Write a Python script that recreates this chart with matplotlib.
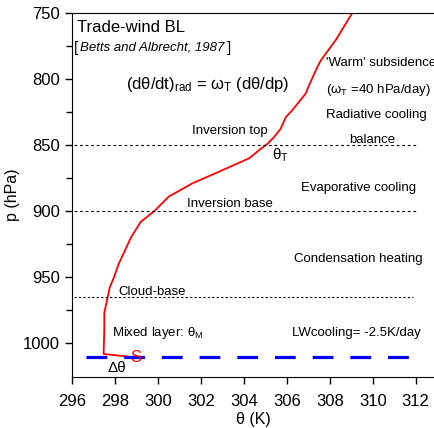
import matplotlib.pyplot as plt

plt.rcParams['font.family'] = ['Liberation Sans', 'DejaVu Sans']
plt.rcParams['mathtext.fontset'] = 'custom'
plt.rcParams['mathtext.rm'] = 'Liberation Sans'
plt.rcParams['mathtext.it'] = 'Liberation Sans:italic'

# sounding profile (theta in K, pressure in hPa)
theta = [298.6, 297.47, 297.5, 297.5, 297.66, 297.75, 297.95, 298.17, 298.74,
         299.2, 299.83, 300.5, 301.6, 303.0, 304.25, 304.7, 305.1, 305.4,
         305.7, 305.95, 306.26, 306.88, 307.0, 307.42, 307.58, 308.28, 309.05]
pres = [1010, 1008, 990, 977, 965, 958, 950, 940, 920,
        908, 900, 889, 879, 869, 860, 854, 849, 844,
        838, 829, 823.5, 811, 806, 791, 786, 770.5, 750]

levels = [850, 900, 965]
level_names = ['Inversion top', 'Inversion base', 'Cloud-base']
surface_p = 1010

fig = plt.figure(figsize=(4.34, 4.28), dpi=100)
ax = fig.add_axes([0.166, 0.119, 0.834, 0.851])

ax.plot(theta, pres, color='red', lw=1.3)
ax.plot([296.65, 312.0], [surface_p, surface_p], color='blue', lw=2.3,
        dashes=(6.5, 5.3))
ax.hlines(levels[0], 296.1, 312.05, color='black', lw=0.8, linestyles=(0, (2.5, 2.5)))
ax.hlines(levels[1], 296.1, 312.05, color='black', lw=0.8, linestyles=(0, (2.5, 2.5)))
ax.hlines(levels[2], 296.1, 311.85, color='black', lw=0.8, linestyles=(0, (2, 2)))

ax.set_xlim(296, 312.85)
ax.set_ylim(1025.5, 750)
ax.set_xticks(range(296, 313, 2))
ax.set_yticks(range(750, 1001, 50))
ax.set_yticks(range(775, 1001, 50), minor=True)
ax.tick_params(direction='out', length=5, width=1, labelsize=12)
ax.tick_params(axis='x', pad=7)
ax.tick_params(which='minor', direction='out', length=4, width=1)
ax.spines['right'].set_visible(False)
ax.set_xlabel('θ (K)', fontsize=11.5, labelpad=2)
ax.set_ylabel('p (hPa)', fontsize=11.5, labelpad=2)

ax.text(296.25, 761, 'Trade-wind BL', fontsize=12, va='center')
ax.text(296.1, 776.5, '[', fontsize=11, va='center')
ax.text(296.36, 776, 'Betts and Albrecht, 1987', fontsize=9.5, style='italic', va='center')
ax.text(303.2, 776.5, ']', fontsize=11, va='center')
ax.text(298.53, 804, '(dθ/dt)$_{\\rm rad}$ = ω$_{\\rm T}$ (dθ/dp)', fontsize=12, va='center')

ax.text(307.83, 788, "'Warm' subsidence", fontsize=9.5, va='center')
ax.text(307.83, 808, '(ω$_{\\rm T}$ =40 hPa/day)', fontsize=9.5, va='center')
ax.text(307.83, 827, 'Radiative cooling', fontsize=9.5, va='center')
ax.text(308.9, 846, 'balance', fontsize=9.5, va='center')
ax.text(306.67, 882.6, 'Evaporative cooling', fontsize=9.5, va='center')
ax.text(306.34, 936, 'Condensation heating', fontsize=9.5, va='center')
ax.text(306.25, 992, 'LWcooling= -2.5K/day', fontsize=9.5, va='center')

ax.text(301.6, 839.5, level_names[0], fontsize=9.5, va='center')
ax.text(301.36, 894.7, level_names[1], fontsize=9.5, va='center')
ax.text(298.15, 961, level_names[2], fontsize=9.5, va='center')
ax.text(305.3, 858, 'θ$_{\\rm T}$', fontsize=11, va='center')
ax.text(297.87, 992, 'Mixed layer: θ$_{\\rm M}$', fontsize=9.5, va='center')
ax.text(297.64, 1019, 'Δθ', fontsize=11, va='center')
ax.text(298.7, 1010.6, 'S', fontsize=12, color='red', va='center')

fig.savefig('out.png', dpi=100)
